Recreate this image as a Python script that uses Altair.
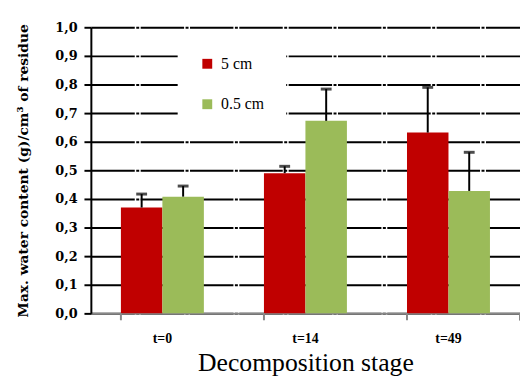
import altair as alt
import pandas as pd

stages = ["t=0", "t=14", "t=49"]
series = ["5 cm", "0.5 cm"]
colors = ["#C00000", "#9BBB59"]
values_5cm = [0.370, 0.490, 0.632]
values_05cm = [0.408, 0.673, 0.428]
err_5cm = [0.047, 0.024, 0.158]
err_05cm = [0.037, 0.111, 0.135]
y_ticks = [0.0, 0.1, 0.2, 0.3, 0.4, 0.5, 0.6, 0.7, 0.8, 0.9, 1.0]

rows = []
for i, s in enumerate(stages):
    rows.append({"stage": s, "series": series[0], "value": values_5cm[i], "upper": values_5cm[i] + err_5cm[i]})
    rows.append({"stage": s, "series": series[1], "value": values_05cm[i], "upper": values_05cm[i] + err_05cm[i]})
df = pd.DataFrame(rows)
tick_df = pd.DataFrame({"stage": stages})

W, H = 435, 290
SERIF = "Liberation Serif"
BOLD_SERIF = "DejaVu Serif"

x_axis = alt.Axis(title="Decomposition stage", labelAngle=0)
y_axis = alt.Axis(
    title="Max. water content (g)/cm³ of residue",
    values=y_ticks,
    labelExpr="replace(format(datum.value, '.1f'), '.', ',')",
)
x_scale = alt.Scale(paddingInner=0.42, paddingOuter=0.21)
y_scale = alt.Scale(domain=[0, 1], nice=False)

xo_enc = alt.XOffset("series:N", sort=series, scale=alt.Scale(paddingInner=0, paddingOuter=0))

bars = alt.Chart(df).mark_bar().encode(
    x=alt.X("stage:N", sort=stages, scale=x_scale, axis=x_axis),
    xOffset=xo_enc,
    y=alt.Y("value:Q", scale=y_scale, axis=y_axis),
    color=alt.Color(
        "series:N", sort=series,
        scale=alt.Scale(domain=series, range=colors),
        legend=alt.Legend(title=None, orient="none", legendX=88, legendY=7),
    ),
)

err = alt.Chart(df).mark_rule(color="black", strokeWidth=2).encode(
    x=alt.X("stage:N", sort=stages, scale=x_scale, axis=x_axis),
    xOffset=xo_enc,
    y=alt.Y("value:Q", scale=y_scale, axis=y_axis),
    y2="upper:Q",
)

caps = alt.Chart(df).mark_tick(color="black", thickness=3, size=11).encode(
    x=alt.X("stage:N", sort=stages, scale=x_scale, axis=x_axis),
    xOffset=xo_enc,
    y=alt.Y("upper:Q", scale=y_scale, axis=y_axis),
)

xticks = alt.Chart(tick_df).mark_rule(color="#888888", strokeWidth=2).encode(
    x=alt.X("stage:N", sort=stages, bandPosition=0, scale=x_scale, axis=x_axis),
    y=alt.value(H),
    y2=alt.value(H + 7),
)
xtick_end = alt.Chart(tick_df).mark_rule(color="#888888", strokeWidth=2).encode(
    x=alt.value(W),
    y=alt.value(H),
    y2=alt.value(H + 7),
)

chart = (
    alt.layer(bars, err, caps, xticks, xtick_end)
    .properties(
        width=W, height=H,
        autosize=alt.AutoSizeParams(type="none"),
        padding={"left": 84, "top": 17, "right": 0, "bottom": 65},
    )
    .configure(background="white", font=SERIF)
    .configure_view(stroke=None)
    .configure_axisX(
        titleFont=SERIF, titleFontSize=26, titleFontWeight="normal", titleColor="black",
        titlePadding=4,
        labelFont=SERIF, labelFontWeight="bold", labelFontSize=14, labelColor="black",
        labelPadding=19, ticks=False, grid=False,
        domainColor="#888888", domainWidth=2, zindex=1,
    )
    .configure_axisY(
        titleFont=BOLD_SERIF, titleFontSize=14, titleFontWeight="bold", titleColor="black",
        titlePadding=25, labelOverlap=False,
        labelFont=BOLD_SERIF, labelFontWeight="bold", labelFontSize=13, labelColor="black",
        labelPadding=7,
        domainColor="black", domainWidth=2,
        tickColor="black", tickSize=7, tickWidth=2,
        grid=True, gridColor="black", gridWidth=2, gridDash=[44, 1.5, 3, 1.5],
        zindex=0,
    )
    .configure_legend(
        fillColor="white", padding=22,
        symbolType="square", symbolSize=100, symbolStrokeWidth=0,
        labelFont=SERIF, labelFontSize=16, labelColor="black",
        labelOffset=6, rowPadding=25,
    )
)

chart.save("out.html", embed_options={"renderer": "svg", "actions": False})
